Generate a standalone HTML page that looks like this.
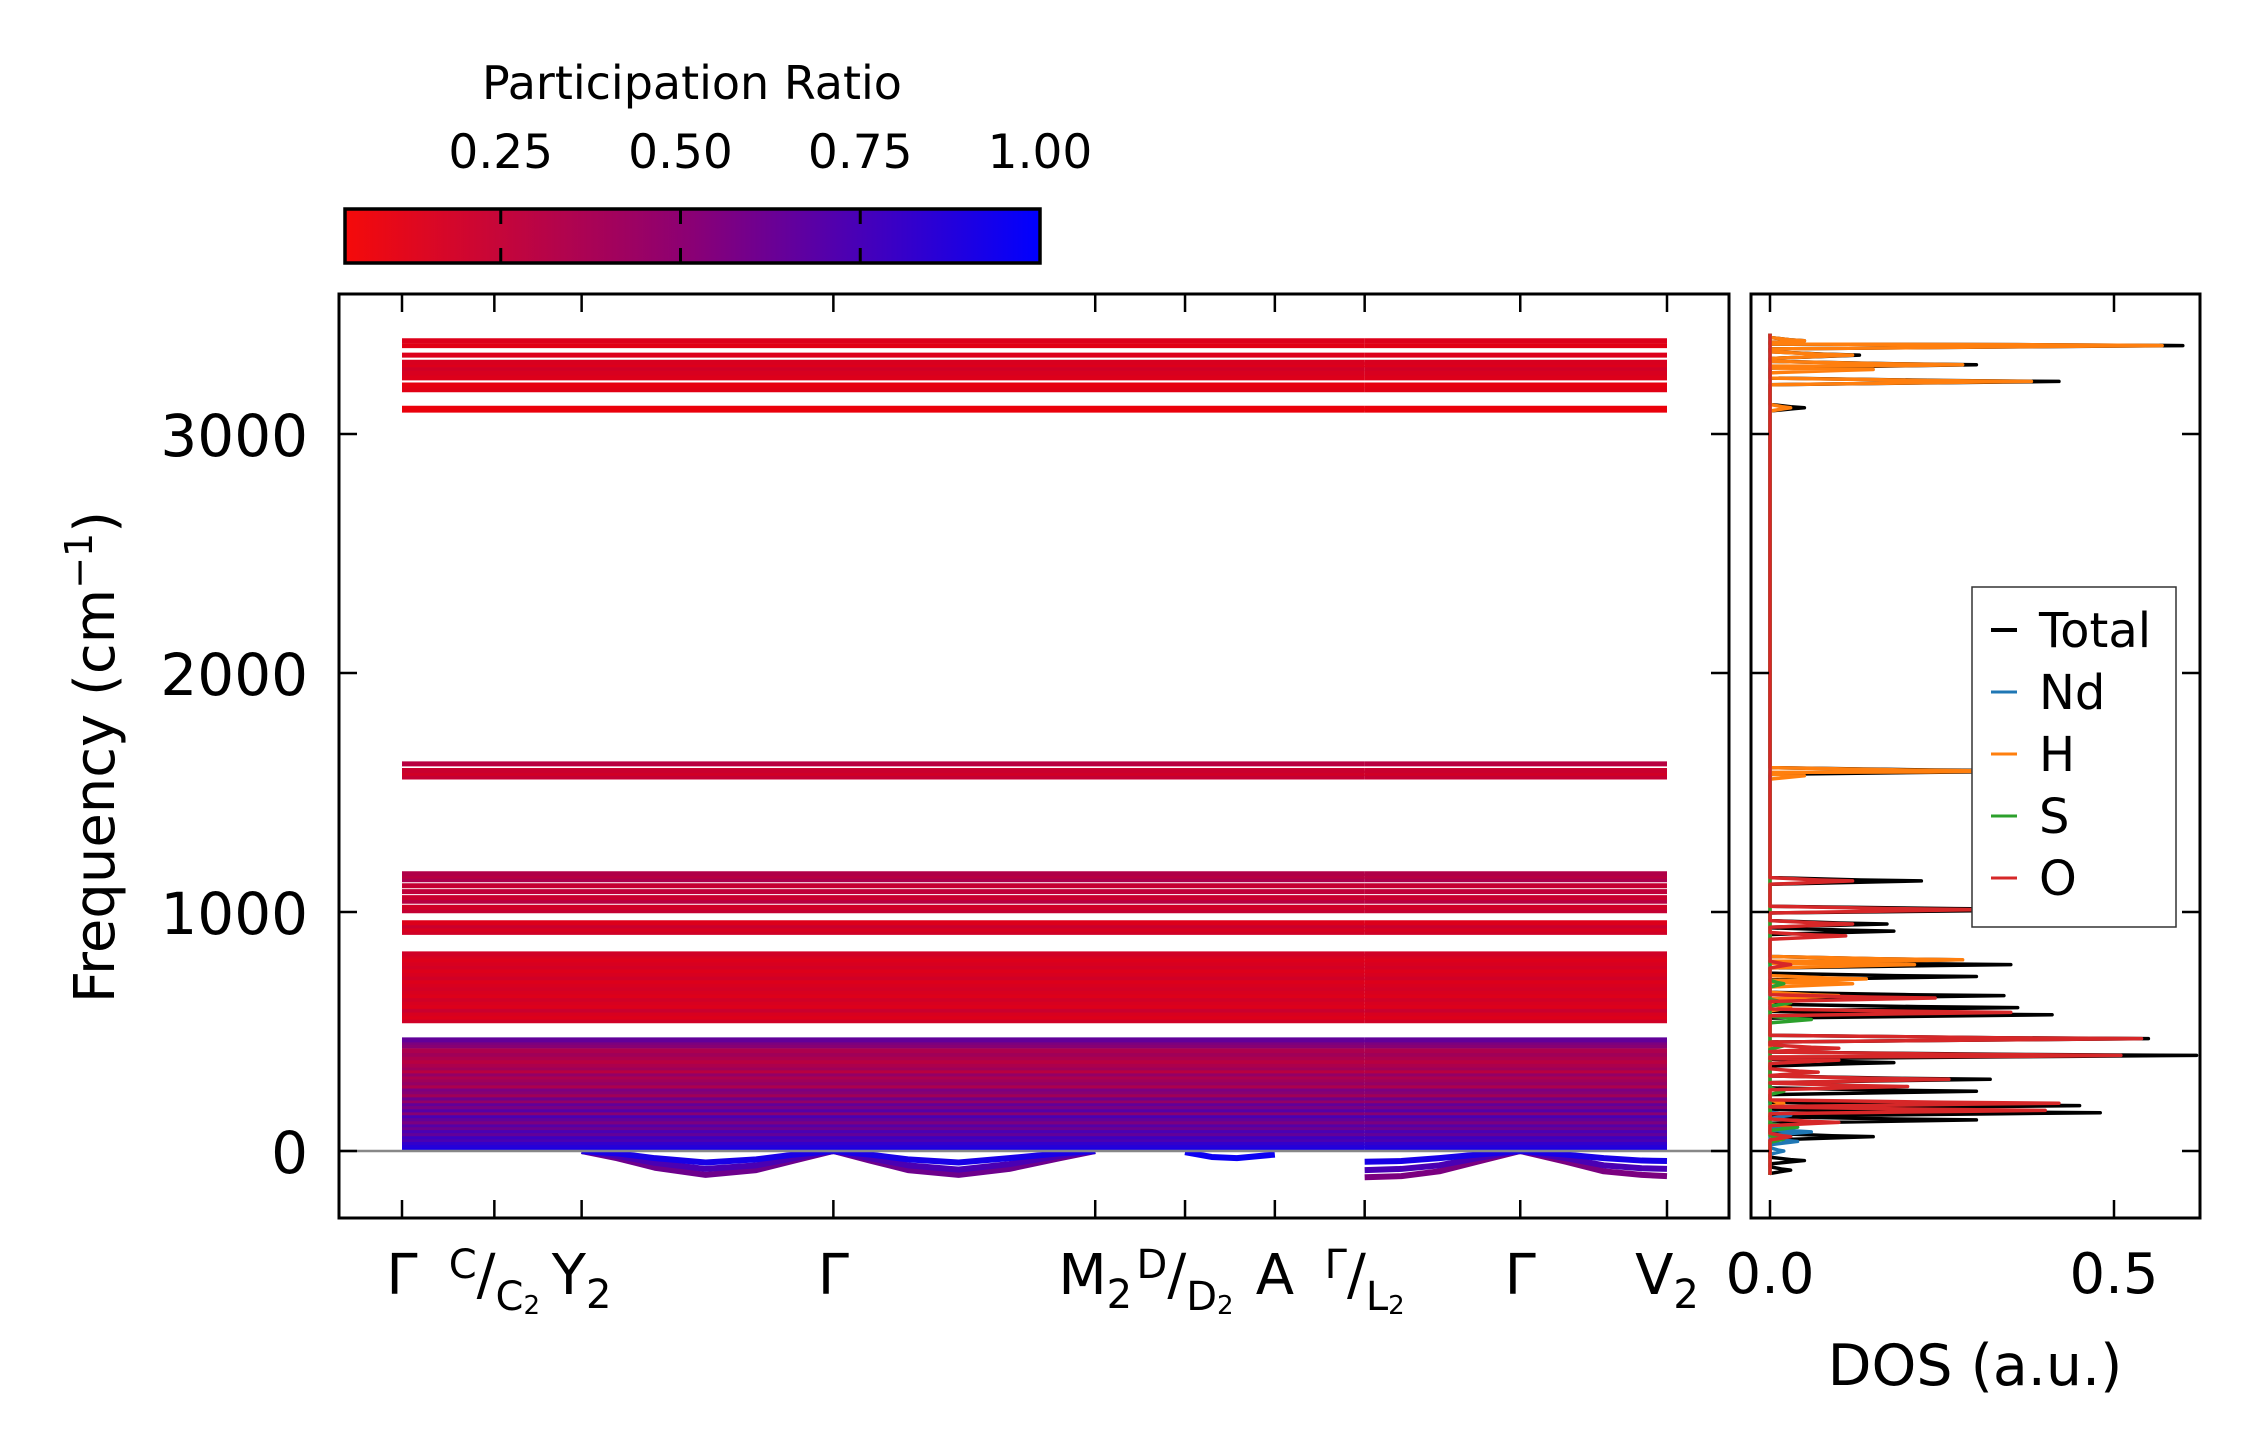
<!DOCTYPE html>
<html><head><meta charset="utf-8"><style>
html,body{margin:0;padding:0;background:#fff;}
svg{display:block;font-family:"DejaVu Sans","Liberation Sans",sans-serif;}
</style></head><body>
<svg id="fig" width="2259" height="1455" viewBox="0 0 2259 1455" xmlns="http://www.w3.org/2000/svg">
<defs>
<linearGradient id="cbg" x1="0" x2="1" y1="0" y2="0">
<stop offset="0" stop-color="#f50a0a"/><stop offset="0.5" stop-color="#8a0075"/><stop offset="1" stop-color="#0000ff"/>
</linearGradient>
<clipPath id="mainclip"><rect x="339" y="294" width="1390" height="924"/></clipPath>
<clipPath id="dosclip"><rect x="1751" y="294" width="449" height="924"/></clipPath>
</defs>
<g id="colorbar">
<text x="692" y="99" font-size="46" text-anchor="middle">Participation Ratio</text>
<rect x="345" y="209" width="695" height="54" fill="url(#cbg)" stroke="#000" stroke-width="3.5"/>
</g>
<g id="bands" clip-path="url(#mainclip)"></g>
<g id="main-axes"></g>
<g id="dos" clip-path="url(#dosclip)"></g>
<g id="dos-axes"></g>
<g id="legend">
<rect x="1972" y="587" width="204" height="340" fill="#fff" stroke="#333" stroke-width="1.5"/>
</g>
</svg>
<script>
// ---------- data ----------
const kTickPos = [0, 0.073, 0.142, 0.341, 0.548, 0.619, 0.690, 0.761, 0.884, 1.0];
const cbTicks = [0.25, 0.50, 0.75, 1.00];
const cbTickLabels = ["0.25", "0.50", "0.75", "1.00"];
const yTicks = [0, 1000, 2000, 3000];
const dosTicks = [0.0, 0.5];
const dosTickLabels = ["0.0", "0.5"];
// flat band frequencies and participation ratios
const bandFreqs = [3100,3108,3185,3205,3235,3255,3275,3290,3300,3330,3370,3390,
 1565,1580,1592,1620,
 915,928,942,955,1005,1020,1045,1060,1085,1110,1135,1150,1160,
 545,560,575,590,605,620,635,650,665,680,695,710,725,740,755,770,785,800,815,825,
 10,22,35,48,60,72,85,98,110,122,135,148,160,172,185,198,210,222,235,248,260,272,285,298,310,322,335,348,360,375,390,405,420,440,455,465];
const bandPR = [0.05,0.04,0.08,0.06,0.1,0.12,0.15,0.1,0.12,0.1,0.08,0.1,
 0.2,0.15,0.18,0.25,
 0.15,0.12,0.18,0.1,0.2,0.15,0.25,0.18,0.22,0.2,0.3,0.25,0.28,
 0.15,0.1,0.12,0.18,0.1,0.12,0.15,0.1,0.12,0.14,0.12,0.1,0.15,0.12,0.1,0.14,0.12,0.1,0.12,0.15,
 0.9,0.85,0.8,0.7,0.75,0.6,0.7,0.55,0.65,0.5,0.6,0.7,0.45,0.65,0.5,0.6,0.4,0.55,0.35,0.45,0.5,0.3,0.4,0.35,0.3,0.4,0.25,0.35,0.3,0.25,0.3,0.35,0.3,0.45,0.5,0.6];
// acoustic (negative) branches
const acK1 = [0.142,0.17,0.20,0.24,0.28,0.31,0.341,0.37,0.40,0.44,0.48,0.52,0.548];
const acF1a = [0,-30,-70,-100,-80,-40,0,-40,-80,-100,-75,-30,0];
const acF1b = [0,-20,-50,-75,-60,-30,0,-30,-60,-78,-55,-20,0];
const acF1c = [0,-10,-30,-48,-35,-15,0,-15,-35,-48,-30,-10,0];
const acK2 = [0.619,0.64,0.66,0.690];
const acF2 = [-5,-25,-30,-15];
const acK3 = [0.761,0.79,0.82,0.85,0.884,0.92,0.95,0.98,1.0];
const acF3a = [-110,-105,-85,-45,0,-45,-85,-100,-105];
const acF3b = [-80,-75,-60,-30,0,-30,-60,-72,-75];
const acF3c = [-45,-42,-30,-15,0,-15,-30,-40,-42];
// DOS peaks (frequency, value)
const totF = [3390,3370,3330,3290,3220,3110,1590,1130,1010,950,920,800,780,730,650,600,570,470,400,370,300,250,190,160,130,60,-40,-80];
const totV = [0.05,0.60,0.13,0.30,0.42,0.05,0.40,0.22,0.45,0.17,0.18,0.27,0.35,0.30,0.34,0.36,0.41,0.55,0.62,0.18,0.32,0.30,0.45,0.48,0.30,0.15,0.05,0.03];
const ndF = [150,100,80,40,0];
const ndV = [0.03,0.04,0.06,0.04,0.02];
const hF = [3390,3370,3330,3290,3270,3220,3110,1590,1570,800,780,720,700,650,600,200,50];
const hV = [0.05,0.57,0.12,0.28,0.15,0.38,0.03,0.33,0.05,0.28,0.21,0.14,0.12,0.10,0.03,0.02,0.01];
const sF = [700,620,550,440,250,100,50];
const sV = [0.02,0.03,0.06,0.02,0.02,0.04,0.02];
const oF = [1130,1010,950,900,780,640,580,470,430,400,380,330,300,270,200,170,120,60];
const oV = [0.12,0.30,0.12,0.11,0.03,0.24,0.35,0.54,0.10,0.51,0.10,0.07,0.26,0.20,0.42,0.40,0.10,0.03];
const legendNames = ["Total","Nd","H","S","O"];
const legendColors = ["#000","#1f77b4","#ff7f0e","#2ca02c","#d62728"];

// ---------- scales ----------
const NS = "http://www.w3.org/2000/svg";
const X0 = 402, X1 = 1667;
const kx = k => X0 + k * (X1 - X0);
const fy = f => 1151 - f * 0.239;
const dx = v => 1770 + v * 688;
const cbx = v => 321 + v * 719;
function prColor(v){ v=Math.max(0,Math.min(1,v)); return `rgb(${Math.round(245*(1-v))},0,${Math.round(255*v)})`; }
function mk(tag, attrs, parent){ const e=document.createElementNS(NS,tag); for(const a in attrs) e.setAttribute(a,attrs[a]); parent.appendChild(e); return e; }

// colorbar ticks/labels
const cb = document.getElementById('colorbar');
cbTicks.forEach((t,i)=>{
  const x=cbx(t);
  if(t<1){
    const l1=mk('line',{x1:x,x2:x,y1:209,y2:224,stroke:'#000','stroke-width':3},cb);
    
    
    const l2=mk('line',{x1:x,x2:x,y1:248,y2:263,stroke:'#000','stroke-width':3},cb);
    
    
  }
  const tx=mk('text',{x:x,y:168,'font-size':47,'text-anchor':'middle'},cb);
  tx.textContent=cbTickLabels[i];
  
  
});

// bands
const bg=document.getElementById('bands');
const segs=[[0,0.761],[0.761,1.0]];
bandFreqs.forEach((f,i)=>{
  segs.forEach(s=>{
    const ln=mk('line',{x1:kx(s[0]),x2:kx(s[1]),y1:fy(f),y2:fy(f),stroke:prColor(bandPR[i]),'stroke-width':5},bg);
    
    
  });
});
function branch(ks,fs,col){
  const p=mk('polyline',{points:ks.map((k,i)=>kx(k)+','+fy(fs[i])).join(' '),fill:'none',stroke:col,'stroke-width':6,'stroke-linejoin':'round'},bg);
  
  
}
branch(acK1,acF1a,prColor(0.55));branch(acK1,acF1b,prColor(0.7));branch(acK1,acF1c,prColor(0.9));
branch(acK2,acF2,prColor(0.95));
branch(acK3,acF3a,prColor(0.5));branch(acK3,acF3b,prColor(0.7));branch(acK3,acF3c,prColor(0.9));
const zl=mk('line',{x1:339,x2:1729,y1:fy(0),y2:fy(0),stroke:'#888','stroke-width':2.5},bg);



// main axes
const ma=document.getElementById('main-axes');
const fr=mk('rect',{x:339,y:294,width:1390,height:924,fill:'none',stroke:'#000','stroke-width':3},ma);


kTickPos.forEach(k=>{
  const x=kx(k);
  const a=mk('line',{x1:x,x2:x,y1:294,y2:312,stroke:'#000','stroke-width':2.5},ma);
  
  
  const b=mk('line',{x1:x,x2:x,y1:1200,y2:1218,stroke:'#000','stroke-width':2.5},ma);
  
  
});
yTicks.forEach(t=>{
  const y=fy(t);
  const a=mk('line',{x1:339,x2:357,y1:y,y2:y,stroke:'#000','stroke-width':2.5},ma);
  
  
  const b=mk('line',{x1:1711,x2:1729,y1:y,y2:y,stroke:'#000','stroke-width':2.5},ma);
  
  
  const tx=mk('text',{x:308,y:y+22,'font-size':58,'text-anchor':'end'},ma);
  tx.textContent=String(t);
  
  
});
const yl=mk('text',{x:0,y:0,'font-size':56,'text-anchor':'middle',transform:'translate(114,757) rotate(-90)'},ma);
yl.innerHTML='Frequency (cm<tspan dy="-22" font-size="38">−1</tspan><tspan dy="22">)</tspan>';


// k-point labels
const kl=document.createElementNS(NS,'g');ma.appendChild(kl);
kl.innerHTML=`
<text x="${kx(kTickPos[0])}" y="1294" font-size="56" text-anchor="middle">Γ</text>
<text x="${kx(kTickPos[1])}" y="1294" font-size="56" text-anchor="middle"><tspan font-size="40" dy="-16">C</tspan><tspan dy="16">/</tspan><tspan font-size="40" dy="16">C</tspan><tspan font-size="26" dy="4">2</tspan></text>
<text x="${kx(kTickPos[2])}" y="1294" font-size="56" text-anchor="middle">Y<tspan font-size="40" dy="14">2</tspan></text>
<text x="${kx(kTickPos[3])}" y="1294" font-size="56" text-anchor="middle">Γ</text>
<text x="${kx(kTickPos[4])}" y="1294" font-size="56" text-anchor="middle">M<tspan font-size="40" dy="14">2</tspan></text>
<text x="${kx(kTickPos[5])}" y="1294" font-size="56" text-anchor="middle"><tspan font-size="40" dy="-16">D</tspan><tspan dy="16">/</tspan><tspan font-size="40" dy="16">D</tspan><tspan font-size="26" dy="4">2</tspan></text>
<text x="${kx(kTickPos[6])}" y="1294" font-size="56" text-anchor="middle">A</text>
<text x="${kx(kTickPos[7])}" y="1294" font-size="56" text-anchor="middle"><tspan font-size="40" dy="-16">Γ</tspan><tspan dy="16">/</tspan><tspan font-size="40" dy="16">L</tspan><tspan font-size="26" dy="4">2</tspan></text>
<text x="${kx(kTickPos[8])}" y="1294" font-size="56" text-anchor="middle">Γ</text>
<text x="${kx(kTickPos[9])}" y="1294" font-size="56" text-anchor="middle">V<tspan font-size="40" dy="14">2</tspan></text>`;



// DOS curves
const dg=document.getElementById('dos');
function dosCurve(F,V,col,name){
  const pts=[[-100,0],[3420,0]];
  F.forEach((f,i)=>{pts.push([f-14,0]);pts.push([f-4,V[i]*0.7]);pts.push([f,V[i]]);pts.push([f+4,V[i]*0.6]);pts.push([f+14,0]);});
  pts.sort((a,b)=>a[0]-b[0]);
  const p=mk('polyline',{points:pts.map(q=>dx(q[1])+','+fy(q[0])).join(' '),fill:'none',stroke:col,'stroke-width':3.5,'stroke-linejoin':'round'},dg);
  
  
}
dosCurve(totF,totV,'#000','dos-total');
dosCurve(ndF,ndV,'#1f77b4','dos-nd');
dosCurve(hF,hV,'#ff7f0e','dos-h');
dosCurve(sF,sV,'#2ca02c','dos-s');
dosCurve(oF,oV,'#d62728','dos-o');

// DOS axes
const da=document.getElementById('dos-axes');
const dfr=mk('rect',{x:1751,y:294,width:449,height:924,fill:'none',stroke:'#000','stroke-width':3},da);


dosTicks.forEach((t,i)=>{
  const x=dx(t);
  const a=mk('line',{x1:x,x2:x,y1:294,y2:312,stroke:'#000','stroke-width':2.5},da);
  
  
  const b=mk('line',{x1:x,x2:x,y1:1200,y2:1218,stroke:'#000','stroke-width':2.5},da);
  
  
  const tx=mk('text',{x:x,y:1293,'font-size':56,'text-anchor':'middle'},da);
  tx.textContent=dosTickLabels[i];
  
  
});
yTicks.forEach(t=>{
  const y=fy(t);
  const a=mk('line',{x1:1751,x2:1769,y1:y,y2:y,stroke:'#000','stroke-width':2.5},da);
  
  
  const b=mk('line',{x1:2182,x2:2200,y1:y,y2:y,stroke:'#000','stroke-width':2.5},da);
  
  
});
const dt=mk('text',{x:1975,y:1385,'font-size':57,'text-anchor':'middle'},da);
dt.textContent='DOS (a.u.)';



// legend
const lg=document.getElementById('legend');
legendNames.forEach((n,i)=>{
  const y=630+i*62;
  const l=mk('line',{x1:1991,x2:2017,y1:y,y2:y,stroke:legendColors[i],'stroke-width':i===0?4:3},lg);
  
  
  const t=mk('text',{x:2039,y:y+17,'font-size':48},lg);
  t.textContent=n;
  
  
});
</script>
</body></html>
